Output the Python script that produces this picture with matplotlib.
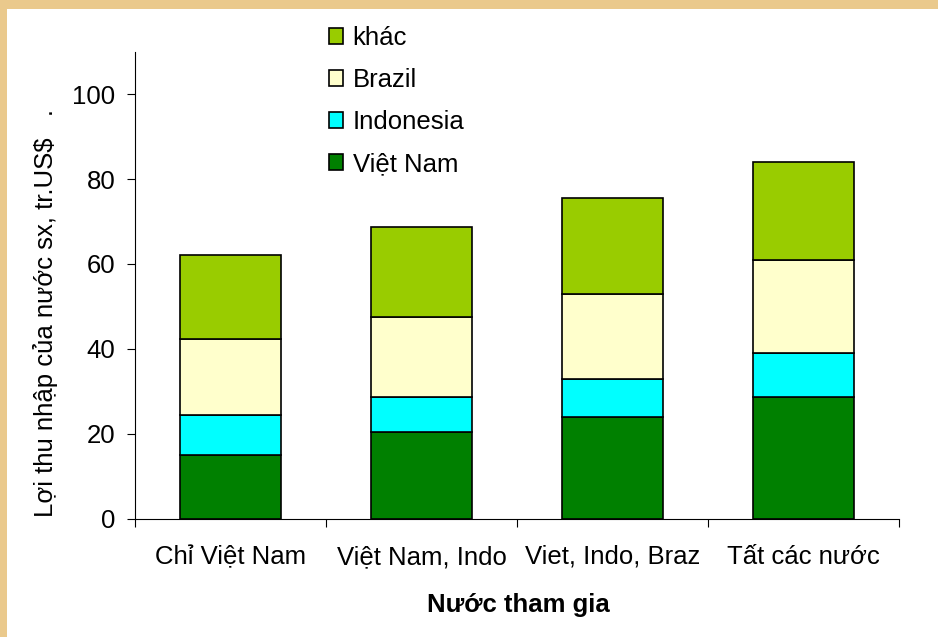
import matplotlib
matplotlib.use('Agg')
import matplotlib.pyplot as plt
import numpy as np
from matplotlib.patches import Rectangle

plt.rcParams['font.family'] = ['Liberation Sans', 'DejaVu Sans']

# du lieu doc tu hinh
nhom = ['Chỉ Việt Nam', 'Việt Nam, Indo', 'Viet, Indo, Braz', 'Tất các nước']
viet_nam = [15.0, 20.5, 23.9, 28.6]
indonesia = [9.3, 8.1, 8.9, 10.3]
brazil = [17.9, 18.8, 20.2, 22.1]
khac = [19.8, 21.2, 22.6, 23.0]
ten_chuoi = ['Việt Nam', 'Indonesia', 'Brazil', 'khác']
mau = ['#008000', '#00FFFF', '#FFFFCC', '#99CC00']
y_ticks = [0, 20, 40, 60, 80, 100]

fs = 18.5

fig = plt.figure(figsize=(9.38, 6.37), dpi=100)
fig.patch.set_facecolor('white')

# vien nen mau be (trai va tren)
fig.patches.append(Rectangle((0, 0), 7 / 938, 1, transform=fig.transFigure,
                             facecolor='#EAC98C', edgecolor='none', zorder=0))
fig.patches.append(Rectangle((0, 1 - 9 / 637), 1, 9 / 637, transform=fig.transFigure,
                             facecolor='#EAC98C', edgecolor='none', zorder=0))

ax = fig.add_axes([135 / 938, 1 - 518.5 / 637, (899 - 135) / 938, (518.5 - 51.7) / 637])
ax.set_facecolor('white')

x = np.arange(len(nhom))
day = np.zeros(len(nhom))
for vals, ten, c in zip([viet_nam, indonesia, brazil, khac], ten_chuoi, mau):
    ax.bar(x, vals, width=0.53, bottom=day, color=c, edgecolor='black',
           linewidth=1.2, label=ten, zorder=2)
    day = day + np.array(vals)

ax.set_xlim(-0.5, len(nhom) - 0.5)
ax.set_ylim(0, 110)
ax.set_yticks(y_ticks)
ax.set_xticks(x)
ax.set_xticklabels(nhom)
ax.set_xticks(np.arange(-0.5, len(nhom)), minor=True)
ax.tick_params(axis='x', which='major', length=0, pad=19, labelsize=fs)
ax.tick_params(axis='x', which='minor', length=6, width=0.8, direction='out')
ax.tick_params(axis='y', length=6, width=0.8, direction='out', pad=8, labelsize=fs)

for s in ['top', 'right']:
    ax.spines[s].set_visible(False)
for s in ['left', 'bottom']:
    ax.spines[s].set_linewidth(0.8)

fig.text(518 / 938, 1 - 605 / 637, 'Nước tham gia', ha='center', va='center',
         fontsize=fs, fontweight='bold')
fig.text(46 / 938, 1 - 313 / 637, 'Lợi thu nhập của nước sx, tr.US$   .', ha='center',
         va='center', rotation=90, fontsize=fs)

h, l = ax.get_legend_handles_labels()
ax.legend(h[::-1], l[::-1], loc='upper left', bbox_to_anchor=(329 / 938, 1 - 26 / 637),
          bbox_transform=fig.transFigure, frameon=False, fontsize=fs,
          handlelength=0.56, handleheight=0.56, handletextpad=0.36,
          labelspacing=0.7, borderpad=0, borderaxespad=0)

fig.savefig('out.png', dpi=100, facecolor=fig.get_facecolor())
